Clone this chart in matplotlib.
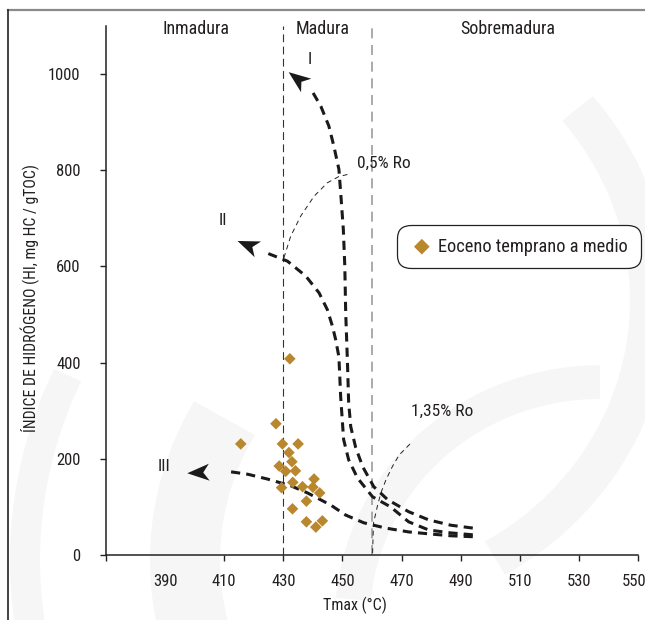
import numpy as np
import matplotlib
matplotlib.use("Agg")
import matplotlib.pyplot as plt
from matplotlib import font_manager
from matplotlib.patches import Polygon, Wedge
from matplotlib.lines import Line2D
from matplotlib.transforms import ScaledTranslation

installed = {f.name for f in font_manager.fontManager.ttflist}
families = [f for f in ["Roboto Condensed", "Liberation Sans Narrow", "Open Sans Condensed",
                        "Roboto", "DejaVu Sans"] if f in installed]
plt.rcParams["font.family"] = families
TEXT = "#231f20"
GOLD = "#b8872e"

# Samples: Tmax (°C) and hydrogen index (mg HC / gTOC)
tmax = [432.2, 427.5, 415.6, 429.7, 435.0, 431.9, 432.9, 428.6, 430.8, 434.1,
        440.4, 433.2, 436.5, 440.0, 429.4, 442.3, 437.8, 433.1, 437.8, 443.2, 441.0]
hi = [408, 273, 231, 231, 231, 213, 194, 185, 174, 175,
      158, 151, 142, 141, 140, 129, 112, 96, 69, 71, 58]

# Kerogen evolution paths (type I, II, III) and their arrow tips
path_i_x = [494.1, 486.6, 479.2, 472.4, 465.3, 460.6, 456.9, 454.5, 452.8, 452.1,
            451.7, 451.1, 450.8, 450.3, 449.4, 448.8, 447.1, 445.4, 442.7, 439.3]
path_i_y = [56, 62, 73, 90, 115, 142, 183, 223, 267, 317,
            400, 504, 600, 677, 754, 802, 850, 892, 933, 969]
tip_i = (431.8, 1004)

path_ii_x = [494.1, 486.6, 479.2, 472.4, 466.3, 460.2, 455.1, 452.1, 450.4, 449.4,
             448.8, 447.7, 446.6, 444.9, 442.1, 437.6, 431.4, 424.0]
path_ii_y = [42, 46, 52, 69, 100, 121, 160, 198, 240, 329,
             412, 448, 476, 510, 545, 580, 611, 629]
tip_ii = (414.5, 653)

path_iii_x = [494.1, 486.6, 479.2, 472.4, 464.6, 457.2, 451.1, 446.0, 443.8, 438.2,
              432.5, 424.6, 417.9, 411.1]
path_iii_y = [38, 40, 44, 48, 56, 67, 83, 104, 111, 129,
              144, 158, 168, 174]
tip_iii = (397.5, 170)

# Vitrinite reflectance isolines
ro05_x = [430.2, 432.5, 435.9, 440.4, 444.9, 448.8, 452.2]
ro05_y = [618, 663, 705, 746, 774, 787, 792]
ro135_x = [460.2, 460.5, 461.8, 463.0, 464.7, 466.9, 469.2, 473.2]
ro135_y = [4, 66, 101, 129, 156, 184, 208, 233]

zone_bounds = [430, 460]
zone_names = ["Inmadura", "Madura", "Sobremadura"]
zone_label_x = [400.4, 443.4, 505.9]

xticks = [390, 410, 430, 450, 470, 490, 510, 530, 550]
yticks = [0, 200, 400, 600, 800, 1000]

W, H = 645, 620
fig = plt.figure(figsize=(W / 100, H / 100), dpi=100)
fig.patch.set_facecolor("white")

# faint decorative rings behind the plot
def ring(cx, cy, r, w, t1=0, t2=360, c="#f6f6f6"):
    fig.add_artist(Wedge((cx / W, 1 - cy / H), r / W, t1, t2, width=w / W,
                         transform=fig.transFigure, color=c, lw=0, zorder=-10))

ring(480, 560, 330, 70, 150, 215)
ring(480, 560, 470, 30, 155, 215)
ring(600, 620, 265, 35, 90, 175)
ring(340, 300, 330, 40, -60, 40)

ax = fig.add_axes([106 / W, 65 / H, 532 / W, 529 / H])
ax.set_facecolor("none")
ax.set_xlim(370, 550)
ax.set_ylim(0, 1100)

for s in ["top", "right"]:
    ax.spines[s].set_visible(False)
for s in ["left", "bottom"]:
    ax.spines[s].set_linewidth(1.1)
    ax.spines[s].set_color("#222222")

ax.set_xticks(xticks)
ax.set_yticks(yticks)
ax.set_xticks([370], minor=True)
ax.tick_params(axis="both", which="both", direction="out", length=4.3,
               width=1.0, color="#222222", labelsize=12, labelcolor=TEXT)
ax.tick_params(axis="y", pad=14)
ax.tick_params(axis="x", pad=9.5)
ax.xaxis.get_major_ticks()[0].tick1line.set_visible(False)
# keep the last tick label inside the page
last = ax.get_xticklabels()[-1]
last.set_transform(last.get_transform() + ScaledTranslation(-4 / 100, 0, fig.dpi_scale_trans))

ax.set_xlabel("Tmax (°C)", fontsize=11.5, color=TEXT)
ax.xaxis.set_label_coords(0.468, -0.079)
ax.set_ylabel("ÍNDICE DE HIDRÓGENO (HI, mg HC / gTOC)", fontsize=11.3, color=TEXT)
ax.yaxis.set_label_coords(-0.124, 0.486)

# maturity zone boundaries
ax.axvline(zone_bounds[0], color="#333333", lw=0.8, ls=(0, (7, 4)), zorder=1)
ax.axvline(zone_bounds[1], color="#9c9c9c", lw=1.2, ls=(0, (6, 4)), zorder=1)
for name, x in zip(zone_names, zone_label_x):
    ax.text(x, 1094, name, ha="center", va="center", fontsize=13, color=TEXT)

# Ro isolines
ax.plot(ro05_x, ro05_y, color="#222222", lw=0.7, ls=(0, (5, 4)), zorder=2)
ax.plot(ro135_x, ro135_y, color="#222222", lw=0.7, ls=(0, (5, 4)), zorder=2)
ax.text(454.9, 815, "0,5% Ro", ha="left", va="center", fontsize=12.5, color=TEXT)
ax.text(473.2, 298, "1,35% Ro", ha="left", va="center", fontsize=12.5, color=TEXT)

# kerogen paths
def arrow_head(tip, base, length=22, width=17, notch=6):
    t = ax.transData.transform(tip)
    b = ax.transData.transform(base)
    d = (t - b) / np.hypot(*(t - b))
    n = np.array([-d[1], d[0]])
    back = t - d * length
    pts = np.array([t, back + n * width / 2, t - d * (length - notch),
                    back - n * width / 2])
    ax.add_patch(Polygon(ax.transData.inverted().transform(pts), closed=True,
                         facecolor="#1a1a1a", edgecolor="none", zorder=5))

for xs, ys, tip in [(path_i_x, path_i_y, tip_i),
                    (path_ii_x, path_ii_y, tip_ii),
                    (path_iii_x, path_iii_y, tip_iii)]:
    ax.plot(xs, ys, color="#1a1a1a", lw=2.2, ls=(0, (3, 2)),
            solid_capstyle="butt", dash_capstyle="butt", zorder=4)
    arrow_head(tip, (xs[-1], ys[-1]))

ax.text(439.1, 1031, "I", ha="center", va="center", fontsize=12.5, color=TEXT)
ax.text(409.5, 695, "II", ha="center", va="center", fontsize=12.5, color=TEXT)
ax.text(389.7, 184, "III", ha="center", va="center", fontsize=12.5, color=TEXT)

# samples
ax.scatter(tmax, hi, marker="D", s=35, color=GOLD, edgecolors="none", zorder=6,
           label="Eoceno temprano a medio")

leg = ax.legend(loc="center", bbox_to_anchor=(519 / W, 1 - 246.5 / H),
                bbox_transform=fig.transFigure, fontsize=13.2, frameon=True,
                borderpad=0.7, handlelength=1.3, handletextpad=0.25,
                markerscale=1.35, labelcolor=TEXT)
frame = leg.get_frame()
frame.set_boxstyle("round,pad=0,rounding_size=0.75")
frame.set_edgecolor("#222222")
frame.set_linewidth(0.9)
frame.set_facecolor("white")
frame.set_alpha(1)

# page frame lines
fig.add_artist(Line2D([8 / W, 1], [1 - 10 / H, 1 - 10 / H], color="#8a8a8a",
                      lw=1.6, transform=fig.transFigure))
fig.add_artist(Line2D([8 / W, 8 / W], [0, 1 - 10 / H], color="#222222",
                      lw=1.2, transform=fig.transFigure))

fig.savefig("out.png", dpi=100, facecolor="white")
